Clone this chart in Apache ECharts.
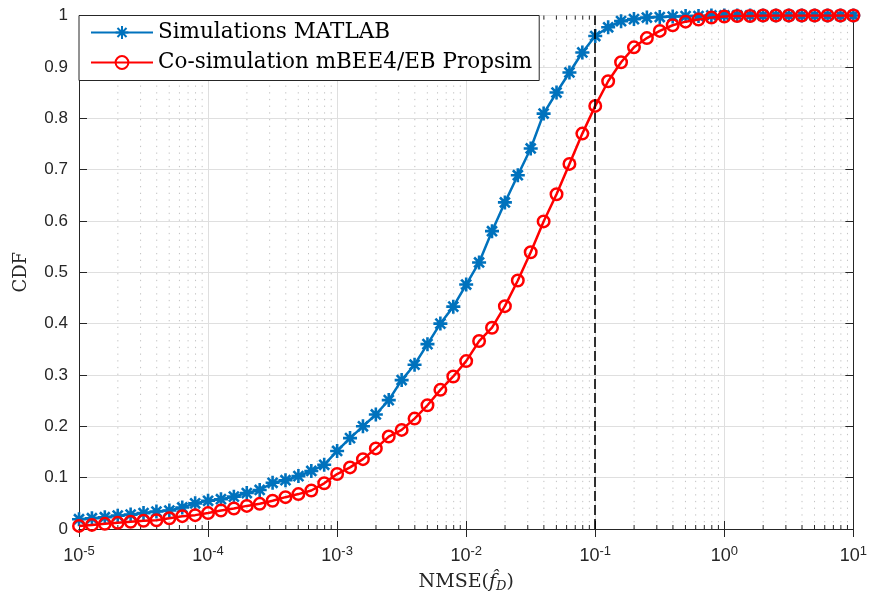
<!DOCTYPE html>
<html><head><meta charset="utf-8">
<script src="https://cdn.jsdelivr.net/npm/echarts@6/dist/echarts.min.js"></script>
<style>html,body{margin:0;padding:0;background:#fff}#c{width:870px;height:598px}</style>
</head><body><div id="c"></div>
<script>
// NMSE sample points (log-spaced, 10 per decade)
var xValues = [
  1e-5,1.259e-5,1.585e-5,1.995e-5,2.512e-5,3.162e-5,3.981e-5,5.012e-5,6.31e-5,7.943e-5,
  1e-4,1.259e-4,1.585e-4,1.995e-4,2.512e-4,3.162e-4,3.981e-4,5.012e-4,6.31e-4,7.943e-4,
  1e-3,1.259e-3,1.585e-3,1.995e-3,2.512e-3,3.162e-3,3.981e-3,5.012e-3,6.31e-3,7.943e-3,
  1e-2,1.259e-2,1.585e-2,1.995e-2,2.512e-2,3.162e-2,3.981e-2,5.012e-2,6.31e-2,7.943e-2,
  1e-1,1.259e-1,1.585e-1,1.995e-1,2.512e-1,3.162e-1,3.981e-1,5.012e-1,6.31e-1,7.943e-1,
  1,1.259,1.585,1.995,2.512,3.162,3.981,5.012,6.31,7.943,
  10
];
var simMatlab = [
  0.019,0.021,0.023,0.026,0.028,0.031,0.034,0.036,0.042,0.050,
  0.055,0.058,0.063,0.070,0.076,0.090,0.095,0.103,0.113,0.125,
  0.152,0.177,0.200,0.223,0.251,0.290,0.320,0.360,0.400,0.433,
  0.476,0.519,0.580,0.636,0.689,0.741,0.809,0.850,0.889,0.928,
  0.960,0.977,0.989,0.993,0.996,0.997,0.998,0.999,0.999,1.000,
  1,1,1,1,1,1,1,1,1,1,
  1
];
var coSim = [
  0.006,0.008,0.010,0.012,0.014,0.016,0.017,0.021,0.025,0.027,
  0.031,0.036,0.040,0.045,0.049,0.055,0.062,0.068,0.075,0.089,
  0.107,0.120,0.136,0.157,0.180,0.193,0.215,0.241,0.271,0.297,
  0.327,0.366,0.392,0.434,0.484,0.539,0.599,0.652,0.711,0.770,
  0.824,0.872,0.909,0.938,0.956,0.970,0.981,0.988,0.992,0.996,
  0.998,0.999,0.999,1,1,1,1,1,1,1,
  1
];
var seriesNames = ['Simulations MATLAB', 'Co-simulation mBEE4/EB Propsim'];
var decadeExponents = [-5, -4, -3, -2, -1, 0];
var minorMantissas = [2, 3, 4, 5, 6, 7, 8, 9];
var thresholdX = 0.1;

var minorTicks = [];
decadeExponents.forEach(function (e) {
  minorMantissas.forEach(function (m) { minorTicks.push([m * Math.pow(10, e), 0]); });
});

var axisColor = '#262626';
var chart = echarts.init(document.getElementById('c'), null, {renderer: 'canvas'});

function xy(xs, ys) { return xs.map(function (x, i) { return [x, ys[i]]; }); }

var starPath = 'path://M0,5L10,5M5,0L5,10M1.46,1.46L8.54,8.54M8.54,1.46L1.46,8.54';

chart.setOption({
  animation: false,
  backgroundColor: '#fff',
  grid: {left: 79, right: 14, top: 15.5, bottom: 68, containLabel: false},
  legend: {
    data: seriesNames,
    orient: 'vertical',
    left: 79, top: 15.5,
    padding: [5, 7, 6, 11],
    itemGap: 6,
    itemWidth: 62, itemHeight: 16,
    backgroundColor: '#fff',
    borderColor: axisColor, borderWidth: 1,
    textStyle: {fontFamily: 'DejaVu Serif', fontSize: 21.5, color: '#000', lineHeight: 24},
    z: 10
  },
  xAxis: [{
    type: 'log', logBase: 10, min: 1e-5, max: 10, position: 'bottom',
    axisLine: {show: true, lineStyle: {color: axisColor, width: 1}},
    axisTick: {show: true, inside: true, length: 8, lineStyle: {color: axisColor}},
    splitLine: {show: true, lineStyle: {color: '#dfdfdf', width: 1}},
    axisLabel: {
      showMinLabel: true, showMaxLabel: true, margin: 16,
      formatter: function (v) { return '{b|10}{s|' + Math.round(Math.log10(v)) + '}'; },
      rich: {
        b: {fontFamily: 'Liberation Sans', fontSize: 18, color: axisColor},
        s: {fontFamily: 'Liberation Sans', fontSize: 13, color: axisColor, padding: [0, 0, 10, 0]}
      }
    },
    name: '{n|NMSE(}{f|f\u0302}{d|D}{n|)}',
    nameLocation: 'middle', nameGap: 43,
    nameTextStyle: {
      rich: {
        n: {fontFamily: 'DejaVu Serif', fontSize: 19, color: axisColor},
        f: {fontFamily: 'DejaVu Serif', fontStyle: 'italic', fontSize: 19, color: axisColor},
        d: {fontFamily: 'DejaVu Serif', fontStyle: 'italic', fontSize: 13, color: axisColor, padding: [8, 0, 0, 0]}
      }
    }
  }, {
    type: 'log', logBase: 10, min: 1e-5, max: 10, position: 'top',
    axisLine: {show: true, lineStyle: {color: axisColor, width: 1}},
    axisTick: {show: true, inside: true, length: 8, lineStyle: {color: axisColor}},
    axisLabel: {show: false}, splitLine: {show: false}
  }],
  yAxis: [{
    type: 'value', min: 0, max: 1, interval: 0.1, position: 'left',
    axisLine: {show: true, lineStyle: {color: axisColor, width: 1}},
    axisTick: {show: true, inside: true, length: 8, lineStyle: {color: axisColor}},
    splitLine: {show: true, lineStyle: {color: '#dfdfdf', width: 1}},
    axisLabel: {margin: 11, fontFamily: 'Liberation Sans', fontSize: 17, color: axisColor,
      formatter: function (v) { return (v === 0 || v === 1) ? String(v) : v.toFixed(1); }},
    name: 'CDF', nameLocation: 'middle', nameGap: 49,
    nameTextStyle: {fontFamily: 'DejaVu Serif', fontSize: 18, color: axisColor}
  }, {
    type: 'value', min: 0, max: 1, interval: 0.1, position: 'right',
    axisLine: {show: true, lineStyle: {color: axisColor, width: 1}},
    axisTick: {show: true, inside: true, length: 8, lineStyle: {color: axisColor}},
    axisLabel: {show: false}, splitLine: {show: false}
  }],
  series: [{
    type: 'custom', name: 'minorGrid', xAxisIndex: 0, yAxisIndex: 0, z: 1, silent: true,
    data: minorTicks,
    encode: {x: 0, y: 1},
    renderItem: function (params, api) {
      var x = api.value(0);
      var p0 = api.coord([x, 0]);
      var p1 = api.coord([x, 1]);
      return {type: 'group', children: [
        {type: 'line', shape: {x1: p0[0], y1: p0[1], x2: p1[0], y2: p1[1]},
          style: {stroke: '#c2c2c2', lineWidth: 1, lineDash: [1.3, 5.4]}},
        {type: 'line', shape: {x1: p0[0], y1: p0[1], x2: p0[0], y2: p0[1] - 4},
          style: {stroke: axisColor, lineWidth: 1}},
        {type: 'line', shape: {x1: p1[0], y1: p1[1], x2: p1[0], y2: p1[1] + 4},
          style: {stroke: axisColor, lineWidth: 1}}
      ]};
    }
  }, {
    type: 'line', name: seriesNames[0], xAxisIndex: 0, yAxisIndex: 0, z: 3,
    data: xy(xValues, simMatlab),
    symbol: starPath, symbolSize: 14, showSymbol: true, showAllSymbol: true,
    lineStyle: {color: '#0072BD', width: 2.5},
    itemStyle: {color: '#0072BD', borderColor: '#0072BD', borderWidth: 2.6}
  }, {
    type: 'line', name: seriesNames[1], xAxisIndex: 0, yAxisIndex: 0, z: 4,
    data: xy(xValues, coSim),
    symbol: 'circle', symbolSize: 11.5, showSymbol: true, showAllSymbol: true,
    lineStyle: {color: '#FF0000', width: 2.5},
    itemStyle: {color: 'rgba(255,255,255,0)', borderColor: '#FF0000', borderWidth: 2.5},
    markLine: {
      silent: true, symbol: 'none', label: {show: false},
      lineStyle: {color: '#000', width: 1.6, type: [10, 4]},
      data: [{xAxis: thresholdX}]
    }
  }]
});
</script></body></html>
